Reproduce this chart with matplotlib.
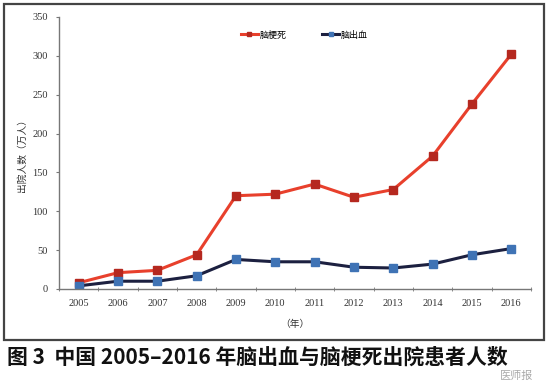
import matplotlib.pyplot as plt
from matplotlib.patches import Rectangle
import numpy as np

plt.rcParams['font.family'] = ['Liberation Serif', 'Noto Sans CJK SC', 'DejaVu Sans']

years = ["2005", "2006", "2007", "2008", "2009", "2010",
         "2011", "2012", "2013", "2014", "2015", "2016"]
infarction = [8, 21, 24, 44, 120, 122, 135, 118, 128, 171, 238, 302]  # 脑梗死
hemorrhage = [4, 10, 10, 17, 38, 35, 35, 28, 27, 32, 44, 52]  # 脑出血
yticks = [0, 50, 100, 150, 200, 250, 300, 350]

fig = plt.figure(figsize=(5.49, 3.82), dpi=100)
ax = fig.add_axes([0.1075, 0.2435, 0.8595, 0.712])

x = np.arange(len(years))
ax.plot(x, infarction, color="#e8402c", lw=2.2, marker="s", ms=6,
        mfc="#b5281f", mec="#b5281f", label="脑梗死")
ax.plot(x, hemorrhage, color="#1c2040", lw=2.2, marker="s", ms=6,
        mfc="#3f73b5", mec="#3f73b5", label="脑出血")

ax.set_xlim(-0.5, len(years) - 0.5)
ax.set_ylim(0, 350)
ax.set_xticks(x)
ax.set_xticklabels(years)
ax.set_xticks(np.arange(-0.5, len(years), 1), minor=True)
ax.set_yticks(yticks)
ax.tick_params(axis="x", which="major", length=0, labelsize=7.5, pad=7, colors="#333333")
ax.tick_params(axis="x", which="minor", length=3, direction="inout", color="#777777")
ax.tick_params(axis="y", length=2, labelsize=7.5, colors="#333333", pad=6)
ax.tick_params(axis="y", color="#777777")
for s in ["top", "right"]:
    ax.spines[s].set_visible(False)
for s in ["left", "bottom"]:
    ax.spines[s].set_color("#777777")
    ax.spines[s].set_linewidth(1.0)

ax.set_ylabel("出院人数（万人）", fontsize=7, family=["Noto Sans CJK SC"], color="#333333", labelpad=4)
ax.set_xlabel("（年）", fontsize=7, family=["Noto Sans CJK SC"], color="#333333", labelpad=8)

leg = ax.legend(loc="upper center", bbox_to_anchor=(0.52, 0.98), ncol=2, frameon=False,
                prop={"family": "Noto Sans CJK SC", "size": 6.5}, handlelength=1.8,
                columnspacing=4, markerscale=0.6, handletextpad=0.2)

fig.patches.append(Rectangle((0.0073, 0.11), 0.9836, 0.8796, transform=fig.transFigure,
                             fill=False, ec="#444444", lw=1.6))

fig.text(0.012, 0.064, "图 3  中国 2005–2016 年脑出血与脑梗死出院患者人数", fontsize=15,
         fontweight="bold", family=["Noto Sans CJK SC"], va="center", ha="left", color="#111111")
fig.text(0.91, 0.016, "医师报", fontsize=8, family=["Noto Sans CJK SC"], color="#aaaaaa",
         va="center", ha="left")

fig.savefig("out.png", dpi=100)
